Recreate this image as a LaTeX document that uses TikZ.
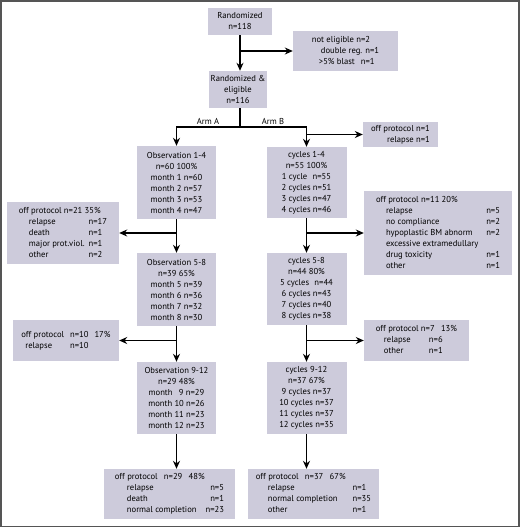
\documentclass[tikz,border=0pt]{standalone}
\usepackage{fontspec}
\setmainfont{PT Sans}
\usetikzlibrary{arrows.meta}
\definecolor{boxfill}{RGB}{205,203,219}
\definecolor{framegray}{RGB}{85,85,85}
\tikzset{>={Stealth[length=8pt,width=7pt]},
	box/.style={fill=boxfill, inner sep=0pt, align=center, font=\fontsize{8.6}{11}\selectfont},
	lbl/.style={inner sep=1pt, font=\fontsize{8.6}{11}\selectfont},
	flow/.style={->, line width=1.2pt},
	trunk/.style={line width=1.2pt}}

\begin{document}
\begin{tikzpicture}[x=1pt,y=-1pt]
	\useasboundingbox (0,0) rectangle (520,528);
	\draw[framegray, line width=1.6pt] (0.8,0.8) rectangle (519.2,526.5);
	% randomization
	\node[box, minimum width=64, minimum height=27] (rand) at (240,21.5) {Randomized\\n=118};
	\node[box, minimum width=105, minimum height=40] (notelig) at (345.5,51) {\begin{tabular}{@{}l@{}}not eligible n=2\\\hspace{9pt}double reg. n=1\\\hspace{7pt}>5\% blast\hspace{6pt}n=1\end{tabular}};
	\node[box, minimum width=58, minimum height=37] (elig) at (238,89.5) {Randomized \&\\eligible\\n=116};
	\coordinate (split) at (240,127);
	\node[lbl, anchor=south] (armA) at (208,126) {Arm A};
	\node[lbl, anchor=south] (armB) at (273,126) {Arm B};
	\node[box, minimum width=75, minimum height=25] (offB0) at (400.5,134.5) {\begin{tabular}{@{}r@{}}off protocol n=1\\relapse n=1\end{tabular}};

	% arm A
	\node[box, minimum width=79, minimum height=73] (obs1) at (176.5,182.5) {Observation 1-4\\n=60 100\%\\month 1 n=60\\month 2 n=57\\month 3 n=53\\month 4 n=47};
	\node[box, minimum width=112, minimum height=62] (offA1) at (63,233) {\begin{tabular}{@{\hspace{10pt}}l@{\hspace{4pt}}l@{}}\multicolumn{2}{@{}l@{}}{off protocol n=21 35\%}\\relapse & n=17\\death & n=1\\major prot.viol. & n=1\\other & n=2\end{tabular}};
	\node[box, minimum width=79, minimum height=73] (obs2) at (176.5,289.5) {Observation 5-8\\n=39 65\%\\month 5 n=39\\month 6 n=36\\month 7 n=32\\month 8 n=30};
	\node[box, minimum width=106, minimum height=41] (offA2) at (66,340.5) {\begin{tabular}{@{}l@{\hspace{6pt}}l@{\hspace{6pt}}l@{}}off protocol & n=10 & 17\%\\\hspace{4pt}relapse & n=10 & \end{tabular}};
	\node[box, minimum width=79, minimum height=72] (obs3) at (176.5,398) {Observation 9-12\\n=29 48\%\\month\hspace{4pt} 9 n=29\\month 10 n=26\\month 11 n=23\\month 12 n=23};
	\node[box, minimum width=131, minimum height=50] (offA3) at (169.5,494) {\begin{tabular}{@{\hspace{12pt}}l@{\hspace{9pt}}r@{}}\multicolumn{2}{@{}l@{}}{off protocol\hspace{4pt} n=29\hspace{4pt} 48\%}\\relapse & n=5\\death & n=1\\normal completion & n=23\end{tabular}};

	% arm B
	\node[box, minimum width=80, minimum height=71] (cyc1) at (306.5,182.5) {cycles 1-4\\n=55 100\%\\1 cycle\hspace{3pt} n=55\\2 cycles n=51\\3 cycles n=47\\4 cycles n=46};
	\node[box, minimum width=148, minimum height=84] (offB1) at (438,233) {\begin{tabular}{@{\hspace{10pt}}l@{\hspace{8pt}}l@{}}\multicolumn{2}{@{}l@{}}{off protocol n=11 20\%}\\relapse & n=5\\no compliance & n=2\\hypoplastic BM abnorm & n=2\\excessive extramedullary & \\drug toxicity & n=1\\other & n=1\end{tabular}};
	\node[box, minimum width=80, minimum height=72] (cyc2) at (306.5,289) {cycles 5-8\\n=44 80\%\\5 cycles\hspace{3pt} n=44\\6 cycles n=43\\7 cycles n=40\\8 cycles n=38};
	\node[box, minimum width=105, minimum height=41] (offB2) at (416.5,340.5) {\begin{tabular}{@{\hspace{8pt}}p{45pt}@{}l@{}}\multicolumn{2}{@{}l@{}}{off protocol n=7\hspace{4pt} 13\%}\\relapse & n=6\\other & n=1\end{tabular}};
	\node[box, minimum width=80, minimum height=72] (cyc3) at (306.5,398) {cycles 9-12\\n=37 67\%\\9 cycles n=37\\10 cycles n=37\\11 cycles n=37\\12 cycles n=35};
	\node[box, minimum width=131, minimum height=50] (offB3) at (313.5,494) {\begin{tabular}{@{\hspace{12pt}}l@{\hspace{15pt}}l@{}}\multicolumn{2}{@{}l@{}}{off protocol\hspace{4pt} n=37\hspace{4pt} 67\%}\\relapse & n=1\\normal completion & n=35\\other & n=1\end{tabular}};

	% connectors
	\draw[flow] (rand.south) -- (rand.south |- elig.north);
	\draw[flow] (rand.south |- notelig) -- (notelig);
	\draw[trunk] (split |- elig.south) -- (split);
	\draw[flow] (split) -| (obs1.north);
	\draw[flow] (split) -| (cyc1.north);
	\draw[flow] (cyc1.north |- offB0) -- (offB0);

	\draw[flow] (obs1) -- (obs2);
	\draw[flow] (obs1.south |- offA1) -- (offA1);
	\draw[flow] (obs2) -- (obs3);
	\draw[flow] (obs2.south |- offA2) -- (offA2);
	\draw[flow] (obs3.south) -- (obs3.south |- offA3.north);

	\draw[flow] (cyc1) -- (cyc2);
	\draw[flow] (cyc1.south |- offB1) -- (offB1);
	\draw[flow] (cyc2) -- (cyc3);
	\draw[flow] (cyc2.south |- offB2) -- (offB2);
	\draw[flow] (cyc3.south) -- (cyc3.south |- offB3.north);
\end{tikzpicture}
\end{document}
